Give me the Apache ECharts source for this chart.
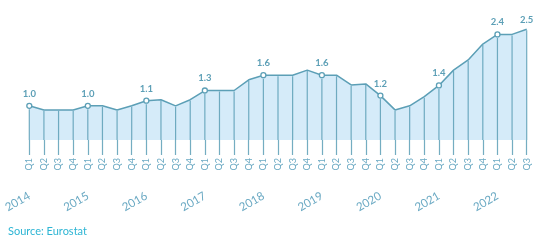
<!DOCTYPE html>
<html><head><meta charset="utf-8">
<script src="https://cdn.jsdelivr.net/npm/echarts@6/dist/echarts.min.js"></script>
<style>html,body{margin:0;padding:0;background:#fff}#c{width:550px;height:243px}</style>
</head><body><div id="c"></div>
<script>
const years = ['2014','2015','2016','2017','2018','2019','2020','2021','2022'];
const quarters = ['Q1','Q2','Q3','Q4'];
const values = [1.0,0.92,0.92,0.92, 1.0,1.0,0.92,1.0, 1.1,1.12,1.0,1.12, 1.3,1.3,1.3,1.51, 1.6,1.6,1.6,1.7, 1.6,1.6,1.41,1.43, 1.2,0.92,1.0,1.18, 1.4,1.7,1.9,2.21, 2.4,2.4,2.5];
const categories = [];
for (let i = 0; i < values.length; i++) categories.push(years[Math.floor(i/4)] + ' ' + quarters[i%4]);

const lineColor = '#5c9fb6';
const textColor = '#6aa9c3';
const font = 'Lato';
const yMin = 0.33, yMax = 2.8;
const last = values.length - 1;

const chart = echarts.init(document.getElementById('c'));
chart.setOption({
  animation: false,
  grid: {left: 29.3, right: 23.3, top: 14, bottom: 103},
  xAxis: [{
    type: 'category', data: categories, boundaryGap: false,
    axisLine: {show: false},
    axisTick: {show: true, length: 15, alignWithLabel: true, lineStyle: {color: lineColor, width: 1.2, opacity: 0.85}},
    axisLabel: {rotate: 90, margin: 18, interval: 0, color: textColor, fontFamily: font, fontSize: 9,
      formatter: v => v.split(' ')[1]}
  }, {
    type: 'category', data: categories, boundaryGap: false, position: 'bottom',
    axisLine: {show: false}, axisTick: {show: false},
    axisLabel: {rotate: 30, margin: 55, color: textColor, fontFamily: font, fontSize: 11.5,
      interval: (i) => i % 4 === 0, formatter: v => v.split(' ')[0]}
  }],
  yAxis: {type: 'value', min: yMin, max: yMax, show: false},
  series: [{
    type: 'line', xAxisIndex: 0, data: values.map((v, i) => ({
      value: v,
      symbol: 'circle',
      symbolSize: i % 4 === 0 ? 5 : 0,
      label: {show: i % 4 === 0 || i === last}
    })),
    showAllSymbol: true,
    lineStyle: {color: lineColor, width: 1.5},
    itemStyle: {color: '#ffffff', borderColor: lineColor, borderWidth: 1.3},
    areaStyle: {color: '#d5ebf9', opacity: 1},
    label: {position: 'top', distance: 4, color: lineColor, fontFamily: font, fontSize: 9.5, fontWeight: 'bold',
      formatter: p => p.value.toFixed(1)},
    z: 2
  }, {
    type: 'custom', xAxisIndex: 0,
    data: values.map((v, i) => [i, v, i % 4 === 0 ? 3.5 : 1]),
    renderItem: (params, api) => {
      const p1 = api.coord([api.value(0), api.value(1)]);
      const p0 = api.coord([api.value(0), yMin]);
      return {type: 'line', shape: {x1: p1[0], y1: p1[1] + api.value(2), x2: p0[0], y2: p0[1]},
        style: {stroke: lineColor, lineWidth: 1.2, opacity: 0.85}};
    },
    z: 3
  }],
  graphic: [{type: 'text', left: 8, top: 226, style: {text: 'Source: Eurostat', fill: '#2db5d4', font: '11px Lato'}}]
});
</script></body></html>
